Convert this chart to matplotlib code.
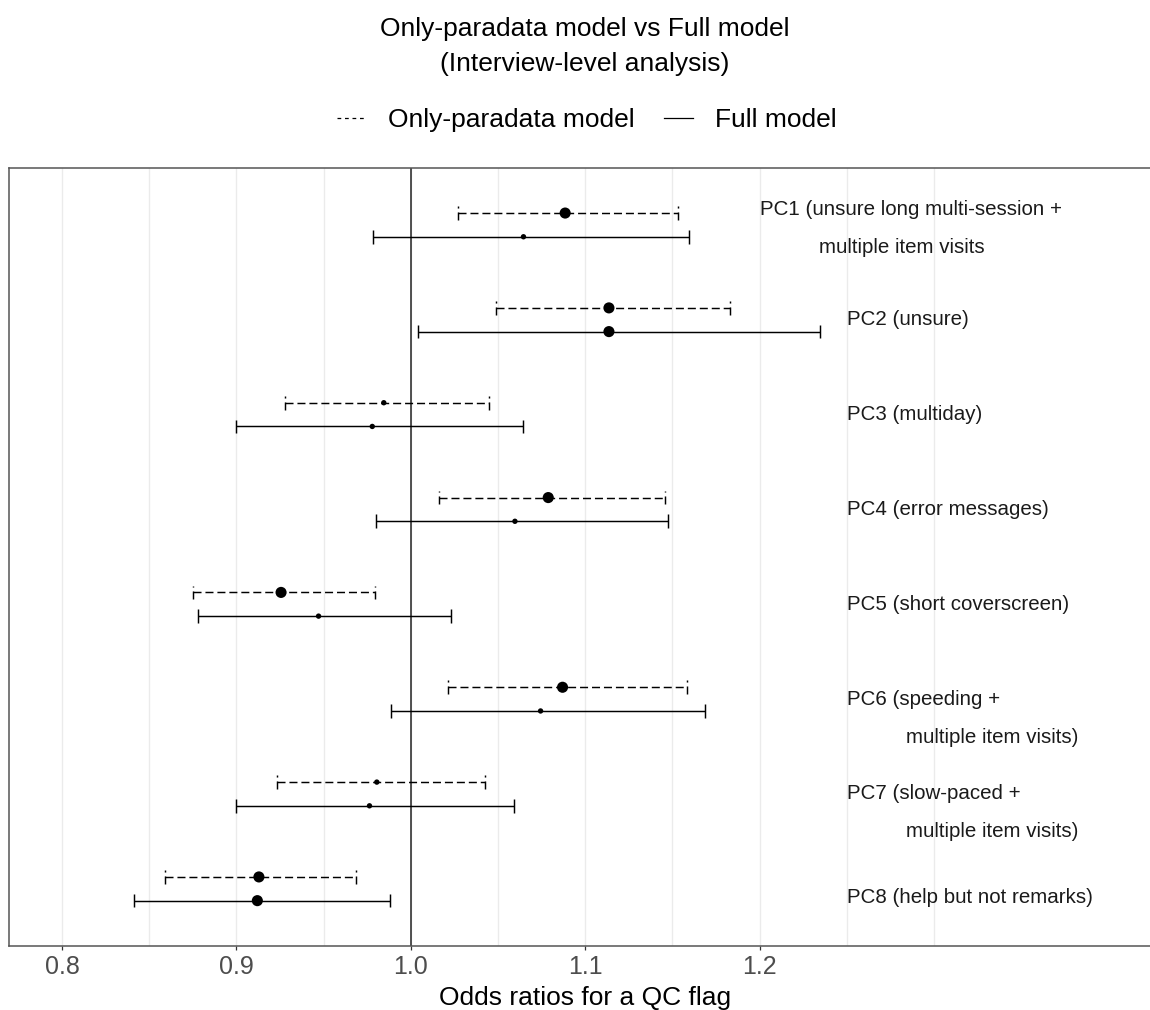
import matplotlib.pyplot as plt
from matplotlib.lines import Line2D

plt.rcParams['font.family'] = ['Liberation Sans', 'DejaVu Sans']

# principal components, top to bottom
components = ["PC1", "PC2", "PC3", "PC4", "PC5", "PC6", "PC7", "PC8"]
label_lines = [
    ["PC1 (unsure long multi-session +", "multiple item visits"],
    ["PC2 (unsure)"],
    ["PC3 (multiday)"],
    ["PC4 (error messages)"],
    ["PC5 (short coverscreen)"],
    ["PC6 (speeding +", "multiple item visits)"],
    ["PC7 (slow-paced +", "multiple item visits)"],
    ["PC8 (help but not remarks)"],
]

# odds ratios with 95% CI, only-paradata model
para_or = [1.0885, 1.1136, 0.9845, 1.0788, 0.9256, 1.0870, 0.9805, 0.9129]
para_lo = [1.0270, 1.0490, 0.9278, 1.0163, 0.8753, 1.0213, 0.9230, 0.8591]
para_hi = [1.1531, 1.1833, 1.0448, 1.1455, 0.9792, 1.1583, 1.0426, 0.9688]

# odds ratios with 95% CI, full model
full_or = [1.0646, 1.1136, 0.9779, 1.0597, 0.9471, 1.0744, 0.9763, 0.9120]
full_lo = [0.9783, 1.0042, 0.8997, 0.9798, 0.8777, 0.9888, 0.8997, 0.8413]
full_hi = [1.1597, 1.2347, 1.0641, 1.1476, 1.0228, 1.1688, 1.0593, 0.9882]

x_ticks = [0.8, 0.9, 1.0, 1.1, 1.2]
x_grid = [0.85, 0.95, 1.05, 1.15, 1.25, 1.30]

# text placement for the component labels
label_x = [1.2005, 1.2503, 1.2503, 1.2503, 1.2503, 1.2503, 1.2503, 1.2503]
wrap_x = [1.2343, None, None, None, None, 1.2837, 1.2837, None]
label_dy = [0.16, 0, 0, 0, 0, 0, 0, -0.09]

dashed = (0, (5.5, 2.7))
cap = 0.072

fig = plt.figure(figsize=(11.5, 10.1), dpi=100)
ax = fig.add_axes([9 / 1150, 1 - 945.7 / 1010, 1142 / 1150, (945.7 - 168) / 1010])

n = len(components)
ypos = [n - i for i in range(n)]

ax.axvline(1.0, color='#2b2b2b', lw=1.15, zorder=2)

models = [
    (para_or, para_lo, para_hi, 0.125, dashed),
    (full_or, full_lo, full_hi, -0.125, 'solid'),
]
for est, lo, hi, off, ls in models:
    ys = [y + off for y in ypos]
    ax.hlines(ys, lo, hi, colors='black', linestyles=[ls], lw=1.05, zorder=3)
    ax.vlines(lo, [y - cap for y in ys], [y + cap for y in ys],
              colors='black', linestyles=[ls], lw=1.05, zorder=3)
    ax.vlines(hi, [y - cap for y in ys], [y + cap for y in ys],
              colors='black', linestyles=[ls], lw=1.05, zorder=3)
    # bigger dots where the interval excludes 1
    sizes = [64 if (l > 1 or h < 1) else 15 for l, h in zip(lo, hi)]
    ax.scatter(est, ys, s=sizes, color='black', zorder=4, linewidths=0)

for i, lines in enumerate(label_lines):
    y0 = ypos[i] + label_dy[i]
    ax.text(label_x[i], y0, lines[0], ha='left', va='center',
            fontsize=14.8, color='#1a1a1a')
    if len(lines) > 1:
        ax.text(wrap_x[i], y0 - 0.4, lines[1], ha='left', va='center',
                fontsize=14.8, color='#1a1a1a')

ax.set_xlim(0.7696, 0.7696 + 1142 / 1744)
ax.set_ylim(0.4, n + 0.6)
ax.set_xticks(x_ticks)
ax.set_xticklabels([f"{t:.1f}" for t in x_ticks])
ax.set_xticks(x_grid, minor=True)
ax.set_yticks([])
ax.tick_params(axis='x', which='major', length=2.9, width=0.9, color='#333333',
               labelsize=18, labelcolor='#4D4D4D', pad=4)
ax.tick_params(axis='x', which='minor', length=0)
ax.grid(axis='x', which='both', color='#EBEBEB', lw=1.0, zorder=0)
ax.set_axisbelow(True)

for side in ['left', 'top', 'bottom']:
    ax.spines[side].set_color('#555555')
    ax.spines[side].set_linewidth(1.1)
ax.spines['right'].set_visible(False)

ax.set_xlabel("Odds ratios for a QC flag", fontsize=19, color='black')
ax.xaxis.set_label_coords((585 - 9) / 1142, (945.7 - 998) / 777.7)
ax.xaxis.label.set_va('center')

fig.text(585 / 1150, 1 - 46.5 / 1010,
         "Only-paradata model vs Full model\n(Interview-level analysis)",
         ha='center', va='center', fontsize=19, linespacing=1.55)

handles = [Line2D([], [], color='black', lw=0.9, linestyle=(0, (3, 3))),
           Line2D([], [], color='black', lw=0.9)]
fig.legend(handles, ["Only-paradata model", "Full model"], loc='center',
           bbox_to_anchor=(587 / 1150, 1 - 120 / 1010), ncol=2, frameon=False,
           fontsize=19, handlelength=1.1, handletextpad=0.85, columnspacing=1.1)

fig.savefig('out.png', dpi=100)
